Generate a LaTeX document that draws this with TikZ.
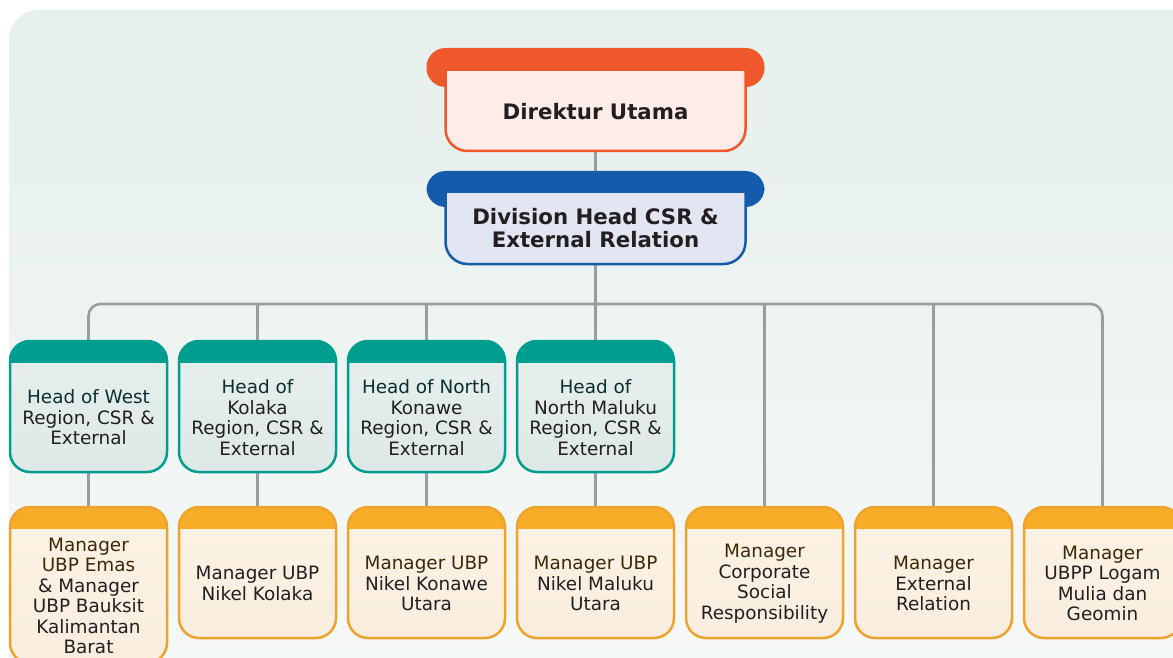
\documentclass[tikz,border=0pt]{standalone}
\usepackage{fontspec}
\setmainfont{DejaVu Sans}
\usetikzlibrary{calc}
\definecolor{bgtop}{HTML}{E5EFEB}
\definecolor{bgbot}{HTML}{F7F9F9}
\definecolor{dirC}{HTML}{EE582A}
\definecolor{dirB}{HTML}{FDECE8}
\definecolor{divC}{HTML}{145CAB}
\definecolor{divB}{HTML}{E2E5F2}
\definecolor{tealC}{HTML}{009E8E}
\definecolor{tealB}{HTML}{E7F0EF}
\definecolor{tealD}{HTML}{DDE8E7}
\definecolor{goldC}{HTML}{F7AD28}
\definecolor{goldE}{HTML}{EEA42C}
\definecolor{goldB}{HTML}{FDF3E5}
\definecolor{goldD}{HTML}{F8EDDE}
\definecolor{lineC}{HTML}{9A9DA0}
\definecolor{txtC}{HTML}{231F20}
\definecolor{tealT}{HTML}{0C2E2C}
\definecolor{goldT}{HTML}{3A2A08}
\tikzset{
  conn/.style={draw=lineC, line width=2.6pt},
  cardtext/.style={align=center, text=txtC, inner sep=0pt,
    font=\fontsize{18.4}{20.5}\selectfont},
  titletext/.style={align=center, text=txtC, inner sep=0pt,
    font=\fontsize{21.3}{23}\selectfont\bfseries},
}
% #1 name, #2 cx, #3 ytop, #4 ybot, #5 head, #6 body top, #7 body bottom, #8 border, #9 text
\newcommand\orgcard[9]{%
  \shade[top color=#6, bottom color=#7, rounded corners=20pt]
    ({#2-78.5},#3) rectangle ({#2+78.5},#4);
  \begin{scope}
    \clip[rounded corners=20pt] ({#2-78.5},#3) rectangle ({#2+78.5},#4);
    \fill[#5] ({#2-80},{#3-2}) rectangle ({#2+80},{#3+22});
  \end{scope}
  \draw[#8, line width=2.5pt, rounded corners=20pt]
    ({#2-78.5},#3) rectangle ({#2+78.5},#4);
  \node[cardtext] (#1) at (#2,{(#3+22+#4)/2}) {#9};
  \coordinate (#1t) at (#2,#3);
  \coordinate (#1b) at (#2,#4);
}
% top boxes: #1 name, #2 bar top, #3 bar bottom, #4 body top, #5 body bottom, #6 colour, #7 body, #8 text
\newcommand\topcard[8]{%
  \fill[#6, rounded corners=19pt] (426.5,#2) rectangle (764.5,#3);
  \begin{scope}
    \clip (400,#4) rectangle (800,{#5+5});
    \filldraw[fill=#7, draw=#6, line width=2.5pt, rounded corners=22pt]
      (445.5,{#4-40}) rectangle (745.5,#5);
  \end{scope}
  \node[titletext] (#1) at (595.5,{(#4+#5)/2}) {#8};
  \coordinate (#1t) at (595.5,#2);
  \coordinate (#1b) at (595.5,#5);
}
\begin{document}
\begin{tikzpicture}[x=1pt,y=-1pt]
\useasboundingbox (0,0) rectangle (1173,658);
\clip (0,0) rectangle (1173,658);
\fill[white] (0,0) rectangle (1173,658);
\shade[top color=bgtop, bottom color=bgbot, rounded corners=30pt] (9,10) rectangle (1230,720);

% connectors first (drawn below cards)
\coordinate (busy) at (595.5,304);
\coordinate (dirb) at (595.5,151);
\coordinate (divt) at (595.5,171);
\coordinate (divb) at (595.5,264);
\foreach \n/\x in {h1/88.5,h2/257.5,h3/426.5,h4/595.5}{
  \coordinate (\n t) at (\x,341);
  \coordinate (\n b) at (\x,472);
}
\foreach \n/\x in {m1/88.5,m2/257.5,m3/426.5,m4/595.5,m5/764.5,m6/933.5,m7/1102.5}{
  \coordinate (\n t) at (\x,507);
}
\draw[conn] (dirb) -- (divt);
\draw[conn] (divb) -- (busy);
\draw[conn, rounded corners=12pt] (h1t) |- (busy) -| (m7t);
\foreach \n in {h2,h3,h4,m5,m6}{\draw[conn] (\n t) -- (\n t |- busy);}
\foreach \a/\b in {h1/m1,h2/m2,h3/m3,h4/m4}{\draw[conn] (\a b) -- (\b t);}

% top boxes
\topcard{dir}{48}{87}{72}{151}{dirC}{dirB}{Direktur Utama}
\topcard{div}{171}{207}{193}{264}{divC}{divB}{Division Head CSR \&\\External Relation}

% regional heads
\orgcard{h1}{88.5}{341}{472}{tealC}{tealB}{tealD}{tealC}{\textcolor{tealT}{Head of West}\\Region, CSR \&\\External}
\orgcard{h2}{257.5}{341}{472}{tealC}{tealB}{tealD}{tealC}{\textcolor{tealT}{Head of}\\Kolaka\\Region, CSR \&\\External}
\orgcard{h3}{426.5}{341}{472}{tealC}{tealB}{tealD}{tealC}{\textcolor{tealT}{Head of North}\\Konawe\\Region, CSR \&\\External}
\orgcard{h4}{595.5}{341}{472}{tealC}{tealB}{tealD}{tealC}{\textcolor{tealT}{Head of}\\North Maluku\\Region, CSR \&\\External}

% managers
\orgcard{m1}{88.5}{507}{663}{goldC}{goldB}{goldD}{goldE}{\textcolor{goldT}{Manager}\\\textcolor{goldT}{UBP Emas}\\\& Manager\\UBP Bauksit\\Kalimantan\\Barat}
\orgcard{m2}{257.5}{507}{638}{goldC}{goldB}{goldD}{goldE}{Manager UBP\\Nikel Kolaka}
\orgcard{m3}{426.5}{507}{638}{goldC}{goldB}{goldD}{goldE}{\textcolor{goldT}{Manager UBP}\\Nikel Konawe\\Utara}
\orgcard{m4}{595.5}{507}{638}{goldC}{goldB}{goldD}{goldE}{\textcolor{goldT}{Manager UBP}\\Nikel Maluku\\Utara}
\orgcard{m5}{764.5}{507}{638}{goldC}{goldB}{goldD}{goldE}{\textcolor{goldT}{Manager}\\Corporate\\Social\\Responsibility}
\orgcard{m6}{933.5}{507}{638}{goldC}{goldB}{goldD}{goldE}{\textcolor{goldT}{Manager}\\External\\Relation}
\orgcard{m7}{1102.5}{507}{638}{goldC}{goldB}{goldD}{goldE}{\textcolor{goldT}{Manager}\\UBPP Logam\\Mulia dan\\Geomin}
\end{tikzpicture}
\end{document}
